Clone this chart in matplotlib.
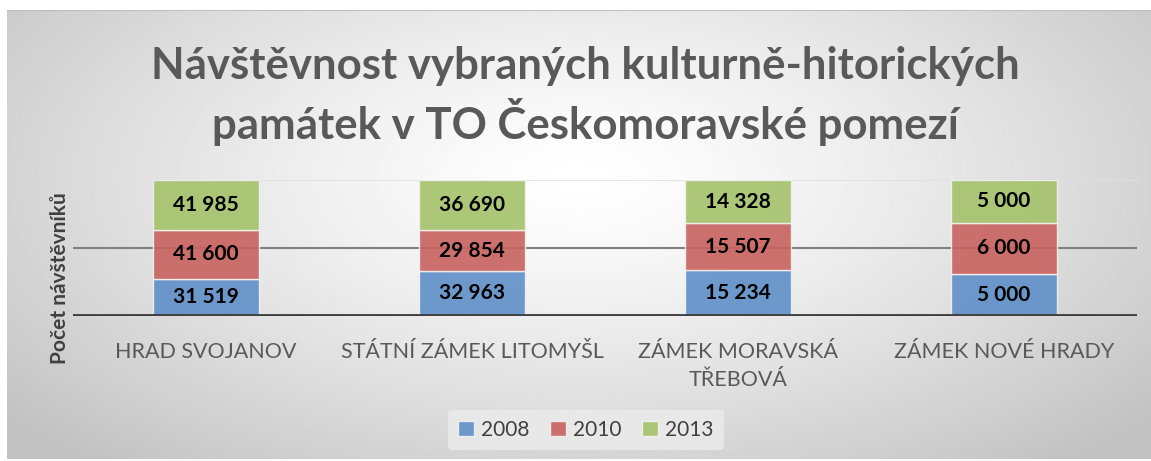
import numpy as np
import matplotlib.pyplot as plt

plt.rcParams['font.family'] = ['Lato', 'DejaVu Sans']

categories = ["HRAD SVOJANOV", "STÁTNÍ ZÁMEK LITOMYŠL", "ZÁMEK MORAVSKÁ\nTŘEBOVÁ", "ZÁMEK NOVÉ HRADY"]
years = ["2008", "2010", "2013"]
v2008 = [31519, 32963, 15234, 5000]
v2010 = [41600, 29854, 15507, 6000]
v2013 = [41985, 36690, 14328, 5000]
colors = ["#5f8fc8", "#c8625f", "#a5c26b"]

title = "Návštěvnost vybraných kulturně-hitorických\npamátek v TO Českomoravské pomezí"
ylabel = "Počet návštěvníků"

W, H = 1151, 461
fig = plt.figure(figsize=(W / 100, H / 100), dpi=100)
fig.patch.set_facecolor("white")

# chart area background - radial gradient
bg = fig.add_axes([7 / W, 1 - 459 / H, (W - 7) / W, (459 - 10) / H])
yy, xx = np.mgrid[-1:1:300j, -1:1:800j]
r = np.sqrt((xx * 0.95) ** 2 + ((yy + 0.25) * 0.75) ** 2)
r = np.clip(r / 1.25, 0, 1)
shade = 1.0 - 0.24 * r ** 1.3
bg.imshow(shade, cmap="gray", vmin=0, vmax=1, aspect="auto", extent=[0, 1, 0, 1])
bg.plot([0, 1], [1, 1], color="#b8b8b8", lw=1.2)
bg.set_xlim(0, 1)
bg.set_ylim(0, 1)
bg.axis("off")

# plot area
left, right, top, bottom = 73, 1137, 180, 316
ax = fig.add_axes([left / W, 1 - bottom / H, (right - left) / W, (bottom - top) / H])
ax.patch.set_alpha(0)

data = np.array([v2008, v2010, v2013], dtype=float)
pct = data / data.sum(axis=0)
x = np.arange(len(categories))
base = np.zeros(len(categories))
for i, yr in enumerate(years):
    bars = ax.bar(x, pct[i], 0.4, bottom=base, color=colors[i], edgecolor="#f2f2f2",
                  linewidth=1.0, label=yr, zorder=2, alpha=0.9)
    for j, b in enumerate(bars):
        ax.text(b.get_x() + b.get_width() / 2, base[j] + pct[i][j] / 2,
                f"{int(data[i][j]):,}".replace(",", " "), ha="center", va="center",
                fontsize=15, fontweight="bold", color="black", zorder=4)
    base += pct[i]

ax.set_xlim(-0.5, len(categories) - 0.5)
ax.set_ylim(0, 1)
ax.axhline(0.5, color="#808080", lw=1.5, zorder=1)
ax.axhline(1.0, color="#e0e0e0", lw=1.2, zorder=1)
ax.axhline(0.0, color="#404040", lw=3.5, zorder=5)
for s in ax.spines.values():
    s.set_visible(False)
ax.set_yticks([])
ax.set_xticks(x)
ax.set_xticklabels(categories, fontsize=15.5, color="#595959", linespacing=1.5)
ax.tick_params(axis="x", length=0, pad=19)

fig.text(585 / W, 1 - 96 / H, title, ha="center", va="center", fontsize=31.5,
         fontweight="bold", color="#595959", linespacing=1.3)
fig.text(60 / W, 1 - 278 / H, ylabel, ha="center", va="center", rotation=90,
         fontsize=15, fontweight="bold", color="#404040")

leg = fig.legend(loc="center", bbox_to_anchor=(586 / W, 1 - 430 / H), ncol=3,
                 frameon=True, fontsize=15, handlelength=0.75, handleheight=0.75,
                 columnspacing=1.0, handletextpad=0.35, borderpad=0.5)
leg.get_frame().set_facecolor("#ececec")
leg.get_frame().set_edgecolor("none")
leg.get_frame().set_alpha(0.8)
for t in leg.get_texts():
    t.set_color("#404040")

fig.savefig("out.png", dpi=100)
